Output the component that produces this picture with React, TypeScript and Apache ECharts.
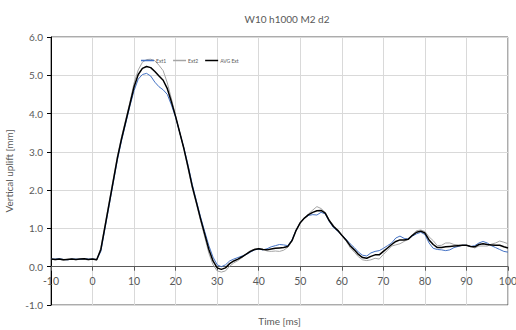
import React, { useEffect, useRef } from "react";
import * as echarts from "echarts";

const time: number[] = [];
for (let t = -10; t <= 100; t++) time.push(t);

const ext1 = [
  0.20, 0.20, 0.21, 0.19, 0.18, 0.20, 0.20, 0.19, 0.21, 0.20, 0.20, 0.19,
  0.40, 1.00, 1.60, 2.20, 2.80, 3.30, 3.75, 4.20, 4.60, 4.90, 5.02, 5.05, 4.98, 4.82, 4.70, 4.62, 4.50, 4.22,
  3.90, 3.50, 3.10, 2.65, 2.15, 1.72, 1.30, 0.92, 0.55, 0.25,
  0.05, 0.00, 0.05, 0.15, 0.20, 0.24, 0.28, 0.32, 0.38, 0.44,
  0.46, 0.44, 0.47, 0.52, 0.55, 0.58, 0.57, 0.55, 0.70, 0.96,
  1.15, 1.27, 1.34, 1.36, 1.35, 1.42, 1.38, 1.18, 1.02, 0.93,
  0.82, 0.72, 0.60, 0.50, 0.38, 0.30, 0.28, 0.36, 0.40, 0.42,
  0.48, 0.55, 0.62, 0.75, 0.80, 0.74, 0.72, 0.80, 0.86, 0.90,
  0.84, 0.62, 0.48, 0.45, 0.44, 0.42, 0.44, 0.50, 0.53, 0.56,
  0.56, 0.53, 0.55, 0.62, 0.66, 0.62, 0.55, 0.50, 0.45, 0.40,
  0.38,
];

const ext2 = [
  0.20, 0.18, 0.19, 0.17, 0.20, 0.20, 0.18, 0.21, 0.19, 0.18, 0.20, 0.17,
  0.50, 1.10, 1.70, 2.30, 2.90, 3.40, 3.85, 4.30, 4.80, 5.14, 5.34, 5.41, 5.42, 5.38, 5.26, 5.12, 4.80, 4.38,
  3.94, 3.50, 3.06, 2.55, 2.05, 1.64, 1.20, 0.78, 0.35, 0.05,
  -0.11, -0.14, -0.11, 0.01, 0.10, 0.16, 0.24, 0.34, 0.42, 0.46,
  0.48, 0.46, 0.41, 0.40, 0.41, 0.40, 0.43, 0.51, 0.66, 0.94,
  1.15, 1.27, 1.38, 1.48, 1.57, 1.52, 1.42, 1.22, 1.08, 0.97,
  0.82, 0.68, 0.50, 0.38, 0.26, 0.18, 0.16, 0.18, 0.22, 0.20,
  0.32, 0.43, 0.54, 0.57, 0.60, 0.66, 0.72, 0.84, 0.94, 0.96,
  0.92, 0.78, 0.68, 0.55, 0.56, 0.62, 0.62, 0.58, 0.57, 0.56,
  0.56, 0.53, 0.49, 0.54, 0.54, 0.54, 0.59, 0.62, 0.67, 0.64,
  0.60,
];

const avgExt = [
  0.20, 0.19, 0.20, 0.18, 0.19, 0.20, 0.19, 0.20, 0.21, 0.19, 0.20, 0.18,
  0.45, 1.05, 1.65, 2.25, 2.85, 3.35, 3.80, 4.25, 4.70, 5.02, 5.18, 5.23, 5.20, 5.10, 4.98, 4.87, 4.65, 4.30,
  3.92, 3.50, 3.08, 2.60, 2.10, 1.68, 1.25, 0.85, 0.45, 0.15,
  -0.03, -0.07, -0.03, 0.08, 0.15, 0.20, 0.26, 0.33, 0.40, 0.45,
  0.47, 0.45, 0.44, 0.46, 0.48, 0.49, 0.50, 0.53, 0.68, 0.95,
  1.15, 1.27, 1.36, 1.42, 1.46, 1.47, 1.40, 1.20, 1.05, 0.95,
  0.82, 0.70, 0.55, 0.44, 0.32, 0.24, 0.22, 0.27, 0.31, 0.31,
  0.40, 0.49, 0.58, 0.66, 0.70, 0.70, 0.72, 0.82, 0.90, 0.93,
  0.88, 0.70, 0.58, 0.50, 0.50, 0.52, 0.53, 0.54, 0.55, 0.56,
  0.56, 0.53, 0.52, 0.58, 0.60, 0.58, 0.57, 0.56, 0.56, 0.52,
  0.49,
];

const seriesNames = ["Ext1", "Ext2", "AVG Ext"];
const seriesColors = ["#4472C4", "#A5A5A5", "#000000"];
const title = "W10 h1000 M2 d2";
const xName = "Time [ms]";
const yName = "Vertical uplift [mm]";
const yMin = -1;
const yMax = 6;

const FONT = "Lato, 'Open Sans', sans-serif";
const GRAY = "#595959";
const W = 516;
const H = 330;
const GRID = { left: 51, right: 8, top: 37, bottom: 25 };

export default function App() {
  const ref = useRef<HTMLDivElement>(null);
  useEffect(() => {
    if (!ref.current) return;
    document.body.style.margin = "0";
    const chart = echarts.init(ref.current, null, { renderer: "svg" });
    const datasets = [ext1, ext2, avgExt];
    const plotH = H - GRID.top - GRID.bottom;
    const zeroOffset = -(plotH * (0 - yMin)) / (yMax - yMin);
    chart.setOption({
      animation: false,
      title: {
        text: title,
        left: 282,
        top: 9,
        textAlign: "center",
        textStyle: { fontFamily: FONT, fontSize: 10, fontWeight: "normal", color: GRAY },
      },
      legend: {
        data: seriesNames,
        left: 136,
        top: 53,
        icon: "rect",
        itemWidth: 13,
        itemHeight: 1.5,
        itemGap: 7,
        textStyle: { fontFamily: FONT, fontSize: 5, color: GRAY, padding: [0, 0, 0, -3] },
      },
      grid: {
        ...GRID,
        outerBoundsMode: "none",
        containLabel: false,
        show: true,
        borderColor: GRAY,
        borderWidth: 1,
      },
      xAxis: {
        type: "value",
        min: -10,
        max: 100,
        interval: 10,
        position: "bottom",
        offset: zeroOffset,
        name: xName,
        nameLocation: "middle",
        nameGap: 49,
        nameTextStyle: { fontFamily: FONT, fontSize: 10, color: GRAY },
        axisLine: { onZero: false, lineStyle: { color: GRAY, width: 1 } },
        axisTick: { show: true, length: 4, lineStyle: { color: GRAY } },
        axisLabel: { fontFamily: FONT, fontSize: 10.5, color: GRAY, margin: 9 },
        splitLine: { show: true, lineStyle: { color: "#D9D9D9", width: 1 } },
      },
      yAxis: {
        type: "value",
        min: yMin,
        max: yMax,
        interval: 1,
        name: yName,
        nameLocation: "middle",
        nameGap: 33,
        nameTextStyle: { fontFamily: FONT, fontSize: 10, color: GRAY },
        axisLine: { show: true, onZero: false, lineStyle: { color: "#000000", width: 1 } },
        axisTick: { show: true, length: 4, lineStyle: { color: "#000000" } },
        axisLabel: {
          fontFamily: FONT,
          fontSize: 10,
          color: GRAY,
          margin: 8,
          formatter: (v: number) => v.toFixed(1),
        },
        splitLine: { show: true, lineStyle: { color: "#D9D9D9", width: 1 } },
      },
      series: seriesNames.map((name, i) => ({
        name,
        type: "line",
        data: time.map((t, j) => [t, datasets[i][j]]),
        showSymbol: false,
        symbol: "none",
        smooth: false,
        color: seriesColors[i],
        lineStyle: { color: seriesColors[i], width: i === 2 ? 1.5 : 1 },
        z: i === 2 ? 3 : i === 0 ? 2 : 1,
      })),
    });
    return () => chart.dispose();
  }, []);
  return <div ref={ref} style={{ width: W, height: H }} />;
}
